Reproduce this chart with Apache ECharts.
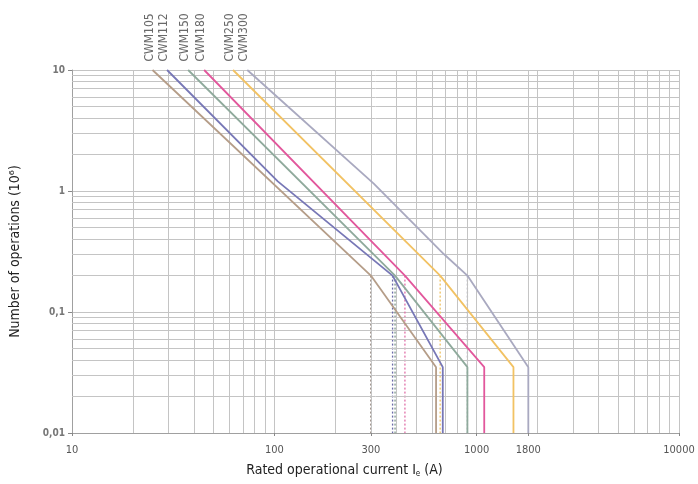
<!DOCTYPE html>
<html><head><meta charset="utf-8">
<script src="https://cdn.jsdelivr.net/npm/echarts@6/dist/echarts.min.js"></script>
<style>html,body{margin:0;padding:0;background:#fff}#c{width:698px;height:484px}</style>
</head><body><div id="c"></div>
<script>
// ---- data ----
const seriesNames = ['CWM105', 'CWM112', 'CWM150', 'CWM180', 'CWM250', 'CWM300'];
const seriesColors = ['#b59d88', '#7777b6', '#8faa9c', '#e2579c', '#f2c263', '#a9a9c0'];
const kneeColors = ['#8a7a70', '#6b6ba8', '#7f9a8c', '#e070a8', '#eec060', '#9a9ab0'];
const cwm105 = [[25, 10], [300, 0.2], [630, 0.035], [630, 0.01]];
const cwm112 = [[29.5, 10], [104, 1.2], [384, 0.2], [680, 0.035], [680, 0.01]];
const cwm150 = [[37.5, 10], [395, 0.2], [900, 0.035], [900, 0.01]];
const cwm180 = [[45, 10], [442, 0.2], [1090, 0.035], [1090, 0.01]];
const cwm250 = [[62.5, 10], [660, 0.2], [1520, 0.035], [1520, 0.01]];
const cwm300 = [[73.5, 10], [310, 1.15], [690, 0.3], [900, 0.2], [1800, 0.035], [1800, 0.01]];
const kneeCurrents = [300, 384, 395, 442, 660, 900];
const kneeOps = 0.2;
const floorOps = 0.01;
const xLabelValues = [10, 100, 300, 1000, 1800, 10000];
const xGridValues = [20, 30, 40, 50, 60, 70, 80, 90, 200, 300, 400, 500, 600, 700, 800, 900, 2000, 3000, 4000, 5000, 6000, 7000, 8000, 9000];
const yGridValues = [0.02, 0.03, 0.04, 0.05, 0.06, 0.07, 0.08, 0.09, 0.2, 0.3, 0.4, 0.5, 0.6, 0.7, 0.8, 0.9, 2, 3, 4, 5, 6, 7, 8, 9];
const xAxisTitle = 'Rated operational current I{sub|e} (A)';
const yAxisTitle = 'Number of operations (10⁶)';

// ---- chart ----
const FONT = "'Liberation Sans Narrow', 'DejaVu Sans Condensed', 'Liberation Sans', Arial, sans-serif";
const allData = [cwm105, cwm112, cwm150, cwm180, cwm250, cwm300];
const gridColor = '#c4c4c4';

const series = [];
// grid lines (minor log lines)
series.push({
  type: 'line', data: [], silent: true, z: 1,
  markLine: {
    silent: true, symbol: ['none', 'none'], animation: false,
    label: { show: false },
    lineStyle: { color: gridColor, width: 1, type: 'solid' },
    data: xGridValues.map(v => ({ xAxis: v })).concat(yGridValues.map(v => ({ yAxis: v })))
  }
});
// dotted knee lines
kneeCurrents.forEach((k, i) => {
  series.push({
    type: 'line', name: seriesNames[i] + '-knee', data: [[k, kneeOps], [k, floorOps]],
    symbol: 'none', silent: true, z: 3,
    lineStyle: { color: kneeColors[i], width: 1.3, type: [2, 2] }
  });
});
allData.forEach((d, i) => {
  series.push({
    type: 'line', name: seriesNames[i], data: d, symbol: 'none', z: 5,
    lineStyle: { color: seriesColors[i], width: 1.8 },
    itemStyle: { color: seriesColors[i] }
  });
});
// series name labels at the start of each curve
series.push({
  type: 'scatter', name: 'labels', silent: true, z: 6, clip: false,
  data: allData.map((d, i) => ({ value: d[0], name: seriesNames[i] })),
  symbolSize: 1, itemStyle: { color: 'rgba(0,0,0,0)' },
  label: {
    show: true, position: 'top', distance: 8, rotate: 90, align: 'left', verticalAlign: 'middle',
    fontFamily: FONT, fontSize: 12, color: '#444', offset: [0, -3],
    formatter: p => p.name
  }
});

const chart = echarts.init(document.getElementById('c'), null, { renderer: 'canvas' });
chart.setOption({
  animation: false,
  backgroundColor: '#fff',
  grid: { left: 70, right: 19, top: 70, bottom: 51, containLabel: false },
  xAxis: {
    type: 'log', logBase: 10, min: 10, max: 10000,
    name: xAxisTitle, nameLocation: 'middle', nameGap: 29,
    nameTextStyle: {
      fontFamily: FONT, fontSize: 14, color: '#222', padding: [0, 62, 0, 0],
      rich: { sub: { fontFamily: FONT, fontSize: 8, color: '#222', padding: [8, 0, 0, 0] } }
    },
    axisLine: { show: true, lineStyle: { color: '#a0a0a0', width: 1 } },
    axisTick: { show: true, customValues: xLabelValues, length: 3, lineStyle: { color: '#888' } },
    axisLabel: {
      customValues: xLabelValues, fontFamily: FONT, fontSize: 11, color: '#555', margin: 12,
      formatter: v => (v === 300 || v === 1800) ? '{hi|' + v + '}' : String(v),
      rich: { hi: { fontFamily: FONT, fontSize: 11, color: '#555', padding: [0, 0, 8, 0] } }
    },
    splitLine: { show: true, lineStyle: { color: gridColor, width: 1 } },
    minorTick: { show: false }, minorSplitLine: { show: false }
  },
  yAxis: {
    type: 'log', logBase: 10, min: 0.01, max: 10,
    name: yAxisTitle, nameLocation: 'middle', nameGap: 50,
    nameTextStyle: { fontFamily: FONT, fontSize: 14, color: '#222' },
    axisLine: { show: true, lineStyle: { color: '#a0a0a0', width: 1 } },
    axisTick: { show: true, length: 4, lineStyle: { color: '#888' } },
    axisLabel: {
      fontFamily: FONT, fontSize: 10, color: '#777', fontWeight: 'bold', margin: 7,
      formatter: v => String(v).replace('.', ',')
    },
    splitLine: { show: true, lineStyle: { color: gridColor, width: 1 } }
  },
  series: series
});
</script></body></html>
